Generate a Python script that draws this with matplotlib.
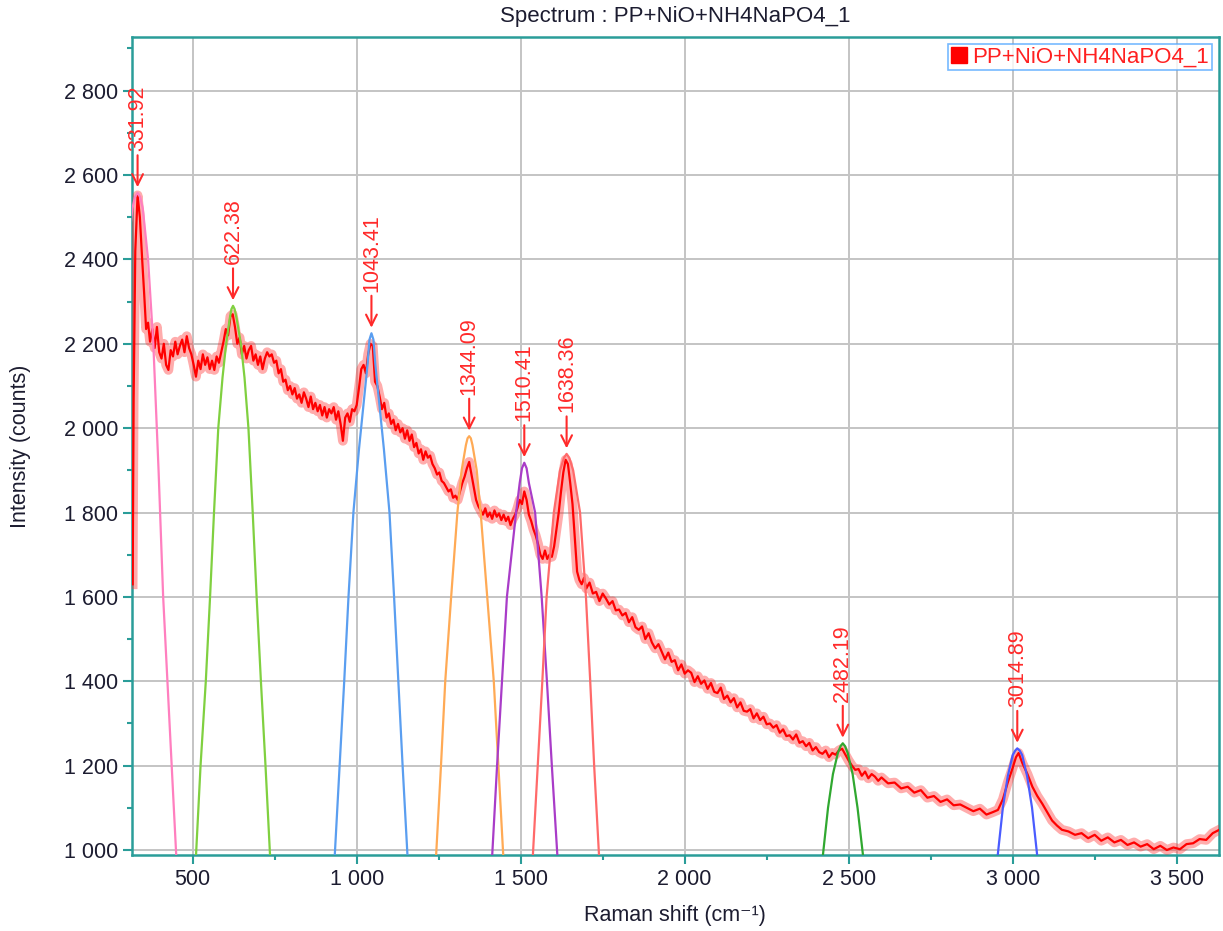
import matplotlib
matplotlib.use('Agg')
import matplotlib.pyplot as plt
from matplotlib.lines import Line2D
from matplotlib.ticker import MultipleLocator, FuncFormatter

plt.rcParams['font.family'] = ['Liberation Sans', 'DejaVu Sans']

spec_x = [317, 320, 325, 332, 339, 346, 352, 358, 364, 370, 377, 384, 391, 398, 405, 412, 419, 426, 433, 440,
          447, 454, 461, 468, 475, 482, 489, 496, 503, 510, 517, 524, 531, 538, 545, 552, 559, 566, 573, 580,
          587, 594, 601, 608, 615, 622, 629, 636, 643, 650, 657, 664, 671, 678, 685, 692, 699, 706, 713, 720,
          727, 734, 741, 748, 755, 762, 769, 776, 783, 790, 797, 804, 811, 818, 825, 832, 839, 846, 853, 860,
          867, 874, 881, 888, 895, 902, 909, 916, 923, 930, 937, 944, 951, 958, 965, 972, 979, 986, 993, 1000,
          1007, 1014, 1021, 1028, 1035, 1042, 1049, 1056, 1063, 1070, 1077, 1084, 1091, 1098, 1105, 1112, 1119,
          1126, 1133, 1140, 1147, 1154, 1161, 1168, 1175, 1182, 1189, 1196, 1203, 1210, 1217, 1224, 1231, 1238,
          1245, 1252, 1259, 1266, 1273, 1280, 1287, 1294, 1301, 1308, 1315, 1322, 1329, 1336, 1343, 1350, 1357,
          1364, 1371, 1378, 1385, 1392, 1399, 1406, 1413, 1420, 1427, 1434, 1441, 1448, 1455, 1462, 1469, 1476,
          1483, 1490, 1497, 1504, 1511, 1518, 1525, 1532, 1539, 1546, 1553, 1560, 1567, 1574, 1581, 1588, 1595,
          1602, 1609, 1616, 1623, 1630, 1637, 1644, 1651, 1658, 1665, 1672, 1679, 1686, 1693, 1700, 1710, 1720,
          1730, 1740, 1750, 1760, 1770, 1780, 1790, 1800, 1810, 1820, 1830, 1840, 1850, 1860, 1870, 1880, 1890,
          1900, 1910, 1920, 1930, 1940, 1950, 1960, 1970, 1980, 1990, 2000, 2010, 2020, 2030, 2040, 2050, 2060,
          2070, 2080, 2090, 2100, 2110, 2120, 2130, 2140, 2150, 2160, 2170, 2180, 2190, 2200, 2210, 2220, 2230,
          2240, 2250, 2260, 2270, 2280, 2290, 2300, 2310, 2320, 2330, 2340, 2350, 2360, 2370, 2380, 2390, 2400,
          2410, 2420, 2430, 2440, 2450, 2460, 2470, 2480, 2490, 2500, 2510, 2520, 2530, 2540, 2550, 2560, 2570,
          2580, 2590, 2600, 2620, 2640, 2660, 2680, 2700, 2720, 2740, 2760, 2780, 2800, 2820, 2840, 2860, 2880,
          2900, 2920, 2940, 2955, 2970, 2985, 3000, 3010, 3018, 3030, 3045, 3060, 3075, 3090, 3105, 3120, 3135,
          3150, 3170, 3190, 3210, 3230, 3250, 3270, 3290, 3310, 3330, 3350, 3370, 3390, 3410, 3430, 3450, 3470,
          3490, 3510, 3530, 3550, 3570, 3590, 3610, 3630]
spec_y = [1630, 2070, 2420, 2552, 2500, 2400, 2320, 2235, 2250, 2205, 2235, 2190, 2240, 2180, 2165, 2200, 2150, 2138, 2185, 2170,
          2205, 2175, 2195, 2210, 2180, 2218, 2190, 2175, 2150, 2122, 2160, 2140, 2175, 2150, 2168, 2140, 2160, 2138, 2170, 2155,
          2180, 2205, 2235, 2220, 2265, 2270, 2240, 2200, 2215, 2175, 2195, 2165, 2185, 2195, 2160, 2175, 2150, 2170, 2140, 2165,
          2180, 2170, 2175, 2155, 2160, 2130, 2140, 2110, 2115, 2090, 2100, 2080, 2095, 2070, 2080, 2060, 2085, 2070, 2050, 2075,
          2045, 2060, 2040, 2055, 2030, 2050, 2025, 2045, 2035, 2050, 2020, 2040, 2010, 1970, 2025, 2035, 2015, 2045, 2040, 2055,
          2095, 2140, 2150, 2130, 2175, 2200, 2195, 2110, 2100, 2075, 2045, 2060, 2025, 2035, 2010, 2020, 1995,
          2010, 1990, 2000, 1975, 1995, 1970, 1985, 1955, 1965, 1940, 1950, 1925, 1945, 1930, 1935, 1915, 1905,
          1890, 1895, 1875, 1870, 1860, 1850, 1855, 1835, 1840, 1830, 1850, 1870, 1885, 1905, 1920, 1890, 1860,
          1830, 1815, 1805, 1795, 1810, 1790, 1800, 1785, 1805, 1790, 1798, 1782, 1795, 1780, 1790, 1770, 1785,
          1795, 1810, 1830, 1820, 1850, 1830, 1795, 1780, 1760, 1745, 1725, 1700, 1690, 1710, 1690, 1700, 1695,
          1720, 1760, 1800, 1850, 1895, 1925, 1915, 1870, 1820, 1740, 1660, 1640, 1630, 1645, 1620, 1634, 1608,
          1612, 1590, 1608, 1596, 1582, 1590, 1568, 1570, 1556, 1562, 1540, 1552, 1528, 1522, 1530, 1500, 1514,
          1492, 1478, 1488, 1470, 1452, 1468, 1446, 1450, 1426, 1440, 1418, 1426, 1420, 1398, 1412, 1394, 1402,
          1382, 1396, 1375, 1372, 1385, 1358, 1366, 1350, 1360, 1338, 1350, 1330, 1328, 1334, 1312, 1324, 1308,
          1316, 1298, 1300, 1290, 1296, 1278, 1286, 1270, 1272, 1262, 1274, 1254, 1258, 1246, 1254, 1236, 1244,
          1232, 1228, 1236, 1220, 1230, 1226, 1236, 1240, 1226, 1212, 1200, 1190, 1192, 1176, 1186, 1170, 1180,
          1174, 1164, 1172, 1158, 1160, 1146, 1150, 1136, 1142, 1124, 1128, 1114, 1120, 1106, 1108, 1100, 1092,
          1098, 1084, 1090, 1095, 1120, 1160, 1195, 1220, 1230, 1205, 1180, 1150, 1128, 1110, 1090, 1070, 1058,
          1048, 1044, 1036, 1040, 1028, 1036, 1022, 1030, 1018, 1024, 1012, 1018, 1008, 1014, 1002, 1010, 1000,
          1006, 1002, 1014, 1016, 1026, 1024, 1040, 1048]

# fitted peak curves: labels, colours and points
peak_labels = ['331.92', '622.38', '1043.41', '1344.09', '1510.41', '1638.36', '2482.19', '3014.89']
peak_colors = ['#ff7fbf', '#80d040', '#5a9ef0', '#ffaa55', '#a93cc8', '#ff6a6a', '#30a830', '#4a5cff']
peak_x = [
    [215, 254, 284, 300, 316, 324, 332, 340, 348, 364, 380, 396, 410, 423, 436, 450],
    [510, 524, 540, 553, 565, 578, 591, 602, 613, 618, 623, 628, 634, 647, 658, 670, 683, 695, 708, 722, 736],
    [933, 948, 962, 975, 990, 1007, 1020, 1033, 1039, 1045, 1051, 1057, 1070, 1083, 1100, 1114, 1127, 1140, 1155],
    [1242, 1257, 1270, 1288, 1307, 1320, 1333, 1338, 1343, 1348, 1353, 1366, 1378, 1398, 1418, 1432, 1447],
    [1413, 1428, 1443, 1458, 1486, 1497, 1504, 1511, 1518, 1525, 1544, 1564, 1580, 1595, 1612],
    [1537, 1552, 1566, 1579, 1601, 1620, 1632, 1640, 1648, 1660, 1681, 1699, 1712, 1724, 1739],
    [2421, 2437, 2452, 2467, 2475, 2482, 2489, 2497, 2512, 2527, 2544],
    [2954, 2970, 2985, 3000, 3008, 3014, 3021, 3029, 3044, 3059, 3075],
]
peak_y = [
    [985, 1600, 2200, 2400, 2520, 2548, 2558, 2548, 2520, 2400, 2200, 1900, 1600, 1400, 1200, 985],
    [985, 1200, 1400, 1600, 1800, 2000, 2120, 2200, 2260, 2282, 2290, 2282, 2260, 2200, 2120, 2000, 1800, 1600, 1400, 1200, 985],
    [985, 1200, 1400, 1600, 1800, 1950, 2050, 2150, 2210, 2225, 2210, 2150, 2050, 1950, 1800, 1600, 1400, 1200, 985],
    [985, 1200, 1400, 1600, 1800, 1900, 1960, 1976, 1981, 1976, 1960, 1900, 1800, 1600, 1400, 1200, 985],
    [985, 1200, 1400, 1600, 1800, 1870, 1905, 1918, 1905, 1870, 1800, 1600, 1400, 1200, 985],
    [985, 1200, 1400, 1600, 1800, 1900, 1930, 1939, 1930, 1900, 1800, 1600, 1400, 1200, 985],
    [985, 1100, 1180, 1230, 1246, 1253, 1246, 1230, 1180, 1100, 985],
    [985, 1100, 1175, 1225, 1236, 1241, 1236, 1225, 1175, 1100, 985],
]

x_ticks = [500, 1000, 1500, 2000, 2500, 3000, 3500]
y_ticks = [1000, 1200, 1400, 1600, 1800, 2000, 2200, 2400, 2600, 2800]

teal = '#2a9d99'
txt_color = '#1c1c30'
lab_red = '#ff2a2a'

fig = plt.figure(figsize=(12.23, 9.31), dpi=100)
ax = fig.add_axes([0.1082, 0.082, 0.8888, 0.8786])

# spectrum: soft halo + core line gives the noisy band look
ax.plot(spec_x, spec_y, color='#ff3030', linewidth=7, alpha=0.4, zorder=3, solid_joinstyle='round')
ax.plot(spec_x, spec_y, color='#ff0000', linewidth=1.6, zorder=4)

for xs, ys, c, lab in zip(peak_x, peak_y, peak_colors, peak_labels):
    ax.plot(xs, ys, color=c, linewidth=1.6, zorder=5)
    top = max(ys)
    xc = xs[ys.index(top)]
    ax.annotate(lab, xy=(xc, top), xytext=(0, 30), textcoords='offset points',
                rotation=90, ha='center', va='bottom', color=lab_red, fontsize=15.5, zorder=6,
                arrowprops=dict(arrowstyle='->,head_length=0.5,head_width=0.25', color=lab_red,
                                lw=1.5, shrinkA=1, shrinkB=4))

ax.set_xlim(316, 3630)
ax.set_ylim(989, 2928)
ax.set_xticks(x_ticks)
ax.set_yticks(y_ticks)
ax.xaxis.set_minor_locator(MultipleLocator(250))
ax.yaxis.set_minor_locator(MultipleLocator(100))
fmt = FuncFormatter(lambda v, p: f'{v:,.0f}'.replace(',', ' '))
ax.xaxis.set_major_formatter(fmt)
ax.yaxis.set_major_formatter(fmt)

ax.tick_params(which='major', direction='out', length=6.5, width=1.5, color=teal,
               labelsize=15.5, labelcolor=txt_color, pad=3.5)
ax.tick_params(which='minor', direction='out', length=3.5, width=1.5, color=teal)
for s in ax.spines.values():
    s.set_color(teal)
    s.set_linewidth(1.8)

ax.grid(True, which='major', color='#c4c4c4', linewidth=1.4)
ax.set_axisbelow(True)

fig.text(0.552, 0.982, 'Spectrum : PP+NiO+NH4NaPO4_1', ha='center', va='center',
         fontsize=16, color=txt_color)
fig.text(0.552, 0.017, 'Raman shift (cm\u207b\u00b9)', ha='center', va='center',
         fontsize=15.5, color=txt_color)
fig.text(0.017, 0.521, 'Intensity (counts)', ha='center', va='center', rotation=90,
         fontsize=15.5, color=txt_color)

handle = Line2D([], [], marker='s', color='#ff0000', linestyle='none', markersize=11)
leg = ax.legend([handle], ['PP+NiO+NH4NaPO4_1'], loc='upper right', fontsize=16,
                labelcolor='#ff2020', frameon=True, fancybox=False, borderpad=0.1,
                handletextpad=0.2, handlelength=0.8, borderaxespad=0.35)
leg.get_frame().set_edgecolor('#55a8ff')
leg.get_frame().set_linewidth(1.2)

fig.savefig('out.png', dpi=100, facecolor='white')
